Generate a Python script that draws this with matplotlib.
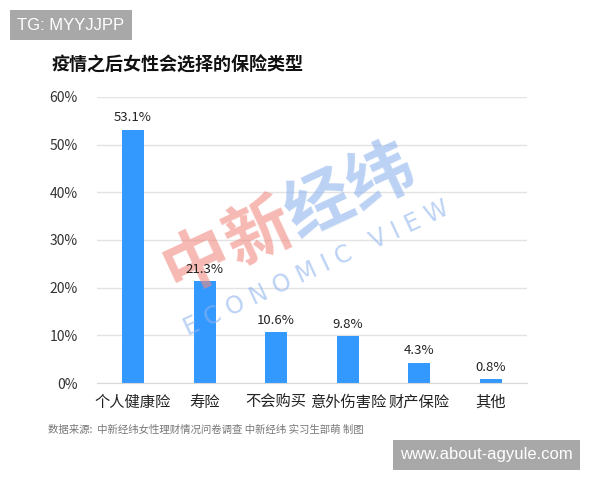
import numpy as np
import matplotlib.pyplot as plt

plt.rcParams['font.family'] = ['Noto Sans CJK SC', 'DejaVu Sans']

categories = ['个人健康险', '寿险', '不会购买', '意外伤害险', '财产保险', '其他']
values = [53.1, 21.3, 10.6, 9.8, 4.3, 0.8]
yticks = [0, 10, 20, 30, 40, 50, 60]

fig = plt.figure(figsize=(6, 4.8), dpi=100)
ax = fig.add_axes([0.162, 0.202, 0.716, 0.596])

x = np.arange(len(categories))
ax.bar(x, values, width=0.31, color='#3399FF', zorder=2)
for xi, v in zip(x, values):
    ax.text(xi, v + 1.2, f'{v}%', ha='center', va='bottom', fontsize=9.5,
            color='#222222', zorder=4)

ax.set_xlim(-0.5, len(categories) - 0.5)
ax.set_ylim(0, 60)
ax.set_yticks(yticks)
ax.set_yticklabels([f'{t}%' for t in yticks], fontsize=10, color='#333333')
ax.set_xticks(x)
ax.set_xticklabels(categories, fontsize=11, color='#222222')
ax.tick_params(axis='both', length=0, pad=8)
ax.tick_params(axis='y', pad=14)
ax.grid(axis='y', color='#e3e3e3', linewidth=1, zorder=0)
for s in ['top', 'right', 'left']:
    ax.spines[s].set_visible(False)
ax.spines['bottom'].set_color('#d9d9d9')

# title and source
fig.text(52 / 600, 1 - 65 / 480, '疫情之后女性会选择的保险类型', fontsize=13,
         fontweight='bold', color='#111111', va='center')
fig.text(48 / 600, 1 - 430 / 480,
         '数据来源:  中新经纬女性理财情况问卷调查 中新经纬 实习生部萌 制图',
         fontsize=7.5, color='#777777', va='center')

# watermark (between bars and value labels)
wm_chars = ['中', '新', '经', '纬']
wm_colors = ['#f08a80', '#f08a80', '#8fb4ee', '#8fb4ee']
for i, (ch, c) in enumerate(zip(wm_chars, wm_colors)):
    px = 197 + 61.5 * i
    py = 262 - 28 * i
    ax.text(px / 600, 1 - py / 480, ch, fontsize=48, fontweight='bold',
            color=c, alpha=0.6, rotation=25, ha='center', va='center',
            transform=fig.transFigure, zorder=3, clip_on=False)
ax.text(316 / 600, 1 - 268 / 480, 'E C O N O M I C   V I E W', fontsize=17,
        color='#8fb4ee', alpha=0.6, rotation=25, ha='center', va='center',
        family='DejaVu Sans', transform=fig.transFigure, zorder=3, clip_on=False)

# corner tags
fig.text(17 / 600, 1 - 25 / 480, 'TG: MYYJJPP', fontsize=12, color='white',
         va='center', family='Liberation Sans',
         bbox=dict(boxstyle='square,pad=0.45', fc='#a8a8a8', ec='none'))
fig.text(400 / 600, 1 - 455 / 480, 'www.about-agyule.com', fontsize=12,
         color='white', va='center', family='Liberation Sans',
         bbox=dict(boxstyle='square,pad=0.45', fc='#a8a8a8', ec='none'))

fig.savefig('out.png', dpi=100)
